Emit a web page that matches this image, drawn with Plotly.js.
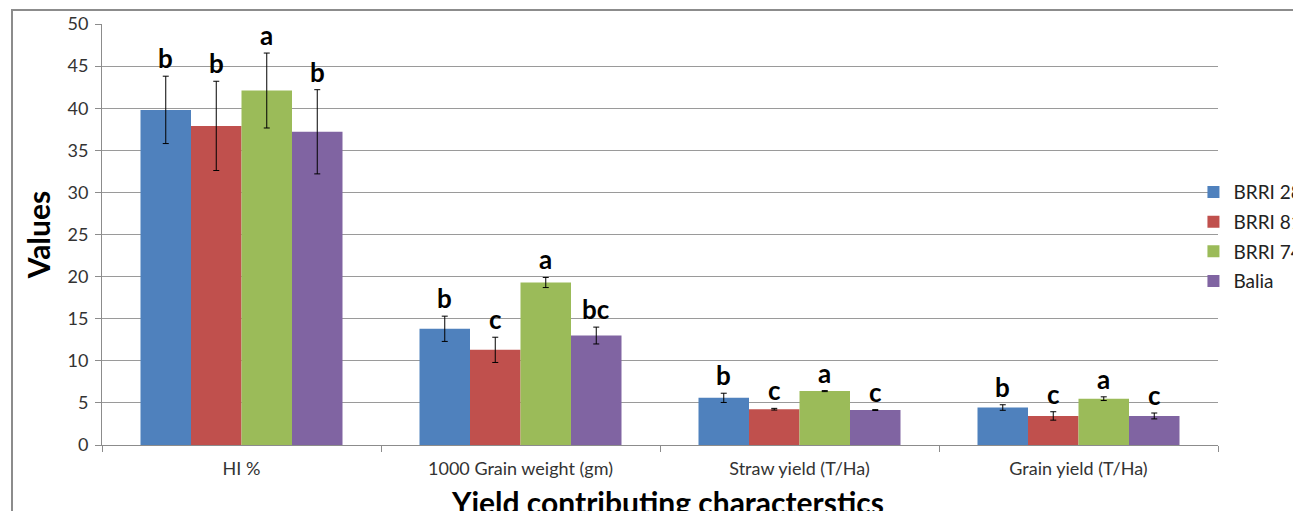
<!DOCTYPE html>
<html><head><meta charset="utf-8">
<script src="https://cdn.plot.ly/plotly-3.0.1.min.js"></script>
<style>
html,body{margin:0;padding:0;background:#fff;overflow:hidden;}
#wrap{position:relative;width:1293px;height:511px;overflow:hidden;}
#frame{position:absolute;left:11px;top:9px;width:2000px;height:2000px;border:2px solid #8c8c8c;pointer-events:none;}
#chart{position:absolute;left:0;top:0;width:1293px;height:511px;}
</style></head>
<body>
<div id="wrap"><div id="chart"></div><div id="frame"></div></div>
<script>
const categories = ["HI %", "1000 Grain weight (gm)", "Straw yield (T/Ha)", "Grain yield (T/Ha)"];
const seriesNames = ["BRRI 28", "BRRI 81", "BRRI 74", "Balia"];
const colors = ["#4F81BD", "#C0504D", "#9BBB59", "#8064A2"];
const xTitle = "Yield contributing characterstics";
const yTitle = "Values";

const brri28 = [39.8, 13.8, 5.6, 4.45];
const brri81 = [37.9, 11.3, 4.25, 3.45];
const brri74 = [42.1, 19.3, 6.4, 5.5];
const balia  = [37.2, 13.0, 4.15, 3.45];

const brri28Err = [4.0, 1.5, 0.55, 0.33];
const brri81Err = [5.3, 1.5, 0.1, 0.5];
const brri74Err = [4.45, 0.6, 0.06, 0.22];
const baliaErr  = [5.0, 1.0, 0.05, 0.35];

const brri28Letters = ["b", "b", "b", "b"];
const brri81Letters = ["b", "c", "c", "c"];
const brri74Letters = ["a", "a", "a", "a"];
const baliaLetters  = ["b", "bc", "c", "c"];

const values = [brri28, brri81, brri74, balia];
const errors = [brri28Err, brri81Err, brri74Err, baliaErr];
const letters = [brri28Letters, brri81Letters, brri74Letters, baliaLetters];

const bargap = 0.276;
const FONT = "Lato, 'Liberation Sans', sans-serif";

const traces = seriesNames.map((name, s) => ({
  type: "bar",
  name: name,
  x: categories,
  y: values[s],
  marker: {color: colors[s], line: {width: 0}},
  legendgroup: "g" + s,
  error_y: {type: "data", array: errors[s], visible: true, color: "#000", thickness: 1, width: 3},
  hoverinfo: "none"
}));

const nS = seriesNames.length;
const barW = (1 - bargap) / nS;
const annotations = [];
for (let s = 0; s < nS; s++) {
  for (let c = 0; c < categories.length; c++) {
    annotations.push({
      x: c - (1 - bargap) / 2 + barW * (s + 0.5),
      y: values[s][c] + errors[s][c],
      xref: "x", yref: "y",
      text: "<b>" + letters[s][c] + "</b>",
      showarrow: false,
      yanchor: "bottom",
      yshift: 0,
      font: {family: FONT, size: 26, color: "#000"}
    });
  }
}
annotations.push({
  x: 0.507, y: -0.088, xref: "paper", yref: "paper",
  xanchor: "center", yanchor: "top",
  text: "<b>" + xTitle + "</b>", showarrow: false,
  font: {family: FONT, size: 30, color: "#000"}
});

const layout = {
  width: 1293, height: 511,
  margin: {l: 102, r: 75, t: 24, b: 66, pad: 0, autoexpand: false},
  paper_bgcolor: "rgba(0,0,0,0)",
  plot_bgcolor: "#fff",
  barmode: "group",
  bargap: bargap,
  bargroupgap: 0,
  showlegend: true,
  legend: {
    x: 0.978, xanchor: "left", y: 0.495, yanchor: "middle",
    font: {family: FONT, size: 19, color: "#222"},
    tracegroupgap: 2, itemwidth: 30,
    bgcolor: "rgba(0,0,0,0)"
  },
  xaxis: {
    type: "category",
    tickson: "boundaries",
    ticks: "outside", ticklen: 6, tickcolor: "#8c8c8c",
    showline: true, linecolor: "#8c8c8c", linewidth: 1,
    tickfont: {family: FONT, size: 18, color: "#333"},
    ticklabelstandoff: 7,
    automargin: false
  },
  yaxis: {
    range: [0, 50], dtick: 5,
    ticks: "outside", ticklen: 6, tickcolor: "#8c8c8c",
    showline: true, linecolor: "#8c8c8c", linewidth: 1,
    showgrid: true, gridcolor: "#9a9a9a", gridwidth: 1,
    zeroline: false,
    ticklabelstandoff: 3,
    tickfont: {family: FONT, size: 18, color: "#333"},
    title: {text: "<b>" + yTitle + "</b>", font: {family: FONT, size: 30, color: "#000"}, standoff: 8},
    automargin: false
  },
  annotations: annotations
};

Plotly.newPlot("chart", traces, layout, {displayModeBar: false, staticPlot: true});
</script>
</body></html>
